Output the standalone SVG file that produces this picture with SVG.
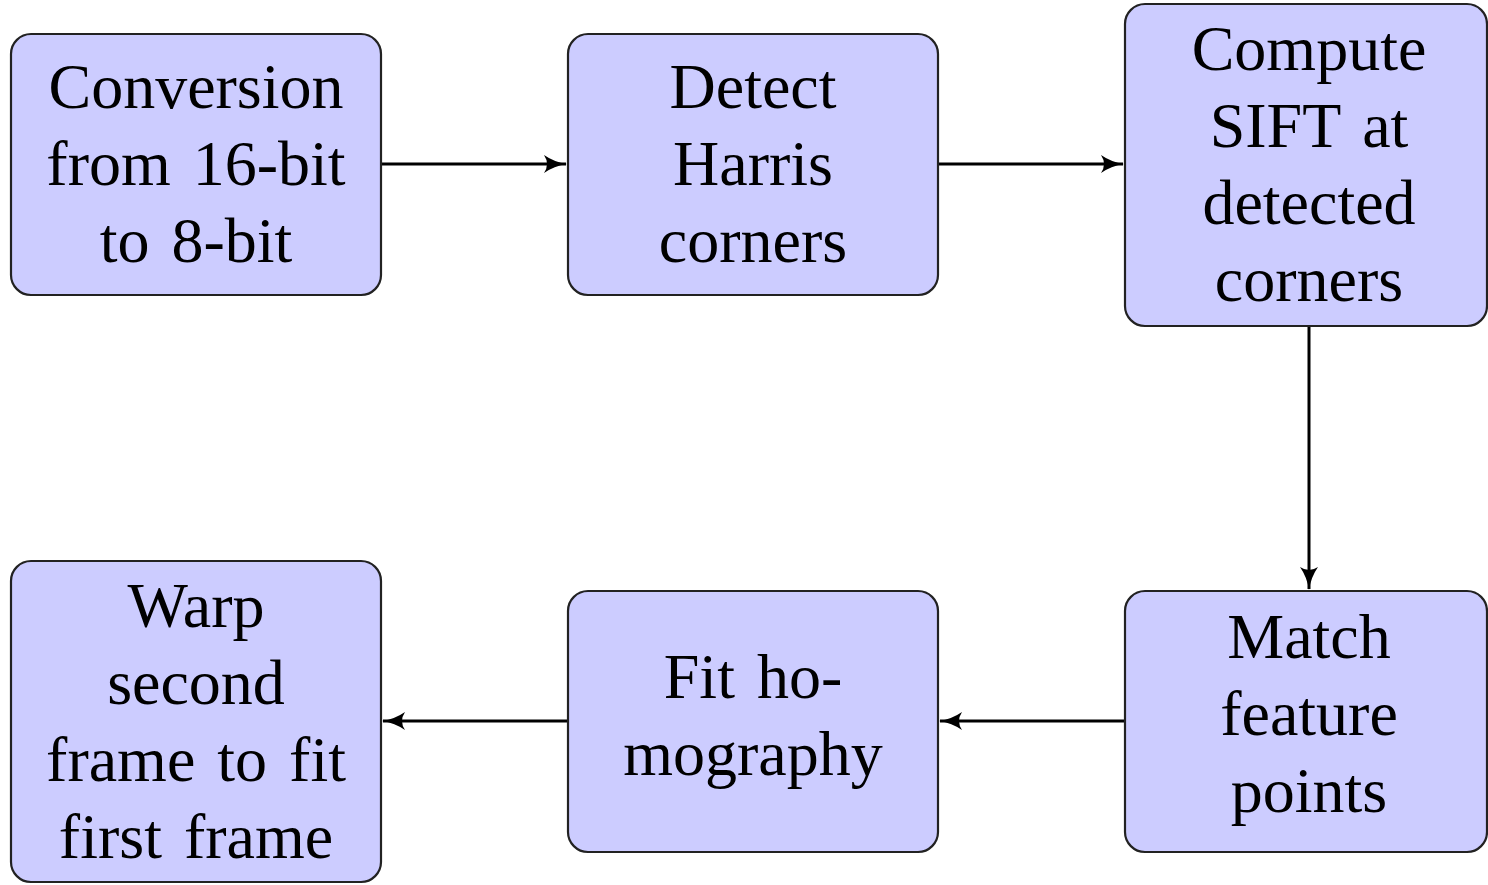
<svg xmlns="http://www.w3.org/2000/svg" width="1488" height="885" viewBox="0 0 1488 885">
<style>
.box{fill:#ccccff;stroke:#222;stroke-width:2.2}
.lbl{font-family:"Liberation Serif","Times New Roman",serif;font-size:64px;fill:#000;text-anchor:middle;word-spacing:6px}
.conn{stroke:#000;stroke-width:3;fill:none;marker-end:url(#ah)}
</style>
<defs>
<marker id="ah" markerWidth="40" markerHeight="40" refX="8" refY="0" orient="auto" markerUnits="userSpaceOnUse" viewBox="-20 -20 40 40" overflow="visible">
<path d="M-14,-9 Q-4,-2 9,0 Q-4,2 -14,9 Q-8,0 -14,-9 Z" fill="#000"/>
</marker>
</defs>
<rect width="1488" height="885" fill="#fff"/>
<g id="connectors">
<line class="conn" x1="381" y1="164" x2="566" y2="164"/>
<line class="conn" x1="938" y1="164" x2="1123" y2="164"/>
<line class="conn" x1="1309" y1="326" x2="1309" y2="589"/>
<line class="conn" x1="1125" y1="721" x2="940" y2="721"/>
<line class="conn" x1="568" y1="721" x2="383" y2="721"/>
</g>
<g id="n1">
<rect class="box" x="11" y="34" width="370" height="261" rx="20"/>
<text class="lbl" x="196" y="108">Conversion</text>
<text class="lbl" x="196" y="185">from 16-bit</text>
<text class="lbl" x="196" y="262">to 8-bit</text>
</g>
<g id="n2">
<rect class="box" x="568" y="34" width="370" height="261" rx="20"/>
<text class="lbl" x="753" y="108">Detect</text>
<text class="lbl" x="753" y="185">Harris</text>
<text class="lbl" x="753" y="262">corners</text>
</g>
<g id="n3">
<rect class="box" x="1125" y="4" width="362" height="322" rx="20"/>
<text class="lbl" x="1309" y="70">Compute</text>
<text class="lbl" x="1309" y="147">SIFT at</text>
<text class="lbl" x="1309" y="224">detected</text>
<text class="lbl" x="1309" y="301">corners</text>
</g>
<g id="n4">
<rect class="box" x="1125" y="591" width="362" height="261" rx="20"/>
<text class="lbl" x="1309" y="658">Match</text>
<text class="lbl" x="1309" y="735">feature</text>
<text class="lbl" x="1309" y="812">points</text>
</g>
<g id="n5">
<rect class="box" x="568" y="591" width="370" height="261" rx="20"/>
<text class="lbl" x="753" y="698">Fit ho-</text>
<text class="lbl" x="753" y="775">mography</text>
</g>
<g id="n6">
<rect class="box" x="11" y="561" width="370" height="321" rx="20"/>
<text class="lbl" x="196" y="627">Warp</text>
<text class="lbl" x="196" y="704">second</text>
<text class="lbl" x="196" y="781">frame to fit</text>
<text class="lbl" x="196" y="858">first frame</text>
</g>
</svg>
